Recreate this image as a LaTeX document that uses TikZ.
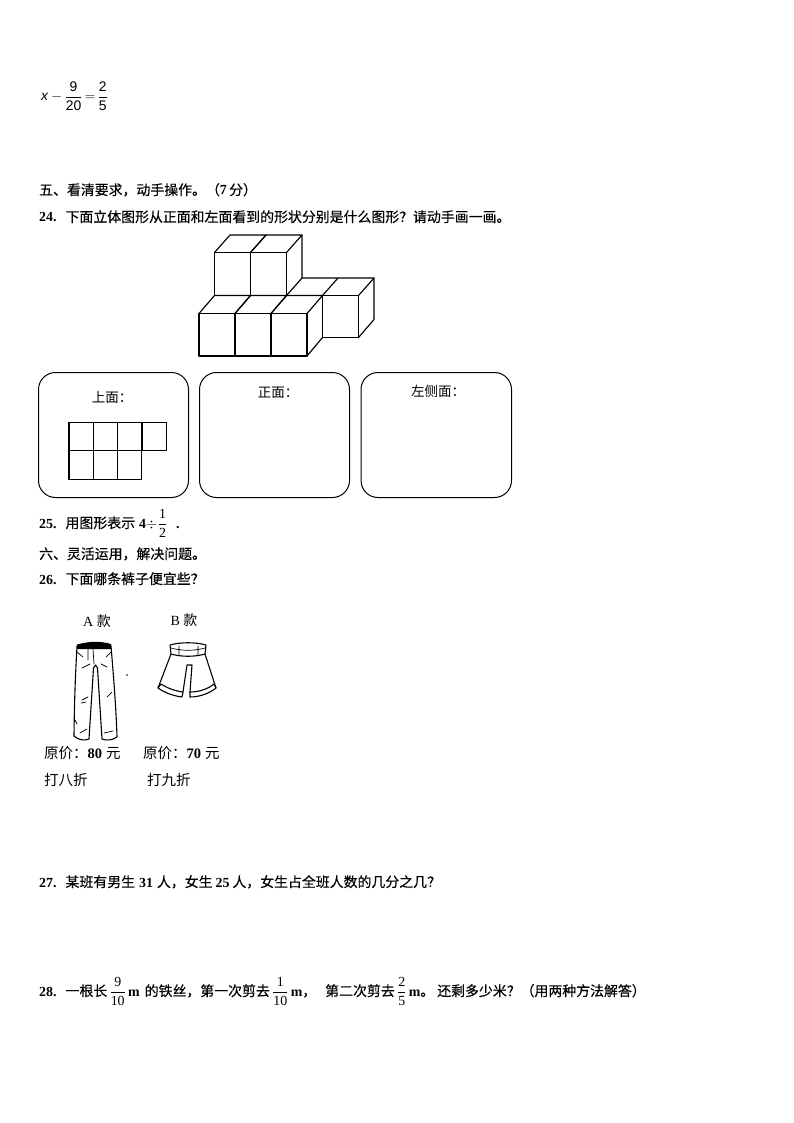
\documentclass[tikz,border=0pt]{standalone}
\usepackage{fix-cm}
\usepackage{amsmath}
\usepackage{fontspec}
\setmainfont{Liberation Serif}
\newfontfamily\cjk[FakeBold=0.3]{Noto Sans CJK SC}
\newfontfamily\cjklight{Noto Sans CJK SC}
\newfontfamily\eqfont{Liberation Sans}
\newcommand{\zh}[1]{{\cjk #1}}
\newcommand{\zl}[1]{{\cjklight #1}}
\newcommand{\wcomma}{\char"FF0C\relax}
\newcommand{\wcolon}{\char"FF1A\relax}
\newcommand{\wquery}{\char"FF1F\relax}
\newcommand{\wopen}{\char"FF08\relax}
\newcommand{\wclose}{\char"FF09\relax}
\newcommand{\frc}[2]{\ensuremath{\dfrac{\text{#1}}{\text{#2}}}}
\newcommand{\efrc}[2]{\ensuremath{\dfrac{\text{\eqfont #1}}{\text{\eqfont #2}}}}
\usetikzlibrary{positioning}
\tikzset{
  textline/.style={anchor=base west,inner sep=0pt,font=\fontsize{13.9}{16}\selectfont},
  pricetext/.style={anchor=base west,inner sep=0pt,font=\fontsize{14.5}{16}\selectfont},
  boxlabel/.style={inner sep=0pt,font=\fontsize{13.5}{14}\selectfont},
  viewbox/.style={draw,line width=1pt,rounded corners=17pt},
  cubeline/.style={draw,line width=1.15pt,line join=round},
  sketch/.style={draw,line width=1.1pt,line join=round,line cap=round},
  wrinkle/.style={draw,line width=0.7pt,line cap=round}
}
\begin{document}
\begin{tikzpicture}[x=1pt,y=-1pt]
  \useasboundingbox[fill=white] (0,0) rectangle (794,1123);
  \node[textline] (eqn) at (41,101) {\text{\eqfont\itshape x}\hspace{1pt}$\,{-}\,\efrc{9}{20}\,{=}\,\efrc{2}{5}$};
  \node[textline] (partfive) at (39,195) {\zh{五、看清要求\wcomma 动手操作。\wopen}\textbf{7}\,\zh{分\wclose}};
  \node[textline] (qfour) at (39,222) {\textbf{24.}\hspace{9pt}\zh{下面立体图形从正面和左面看到的形状分别是什么图形\wquery 请动手画一画。}};
  % upper cubes
  \foreach \x in {214.5,250.5} {
    \draw[cubeline] (\x,252.5) rectangle +(36,43);
    \draw[cubeline] (\x,252.5) -- +(15.5,-17.5) -- +(51.5,-17.5) -- +(36,0);
  }
  \draw[cubeline] (286.5,295.5) -- (302,278) -- (302,235);
  % right cube
  \draw[cubeline] (322.5,295.5) rectangle (358.5,337.5);
  \draw[cubeline] (302,278) -- (374,278) -- (374,319.5) -- (358.5,337.5);
  \draw[cubeline] (358.5,295.5) -- (374,278);
  \draw[cubeline] (322.5,295.5) -- (338,278);
  \draw[cubeline] (286.5,295.5) -- (322.5,295.5);
  % lower cubes
  \foreach \x in {199,235,271} {
    \draw[cubeline] (\x,313.5) rectangle +(36,42.5);
    \draw[cubeline] (\x,313.5) -- +(15.5,-18) -- +(51.5,-18) -- +(36,0);
  }
  \draw[cubeline] (307,356) -- (322.5,337.5);
  % view boxes
  \draw[viewbox] (38.5,372.5) rectangle (188.5,497.5);
  \draw[viewbox] (199.5,372.5) rectangle (349.5,497.5);
  \draw[viewbox] (361,372.5) rectangle (511.5,497.5);
  \node[boxlabel] (lbltop) at (112,397) {\zl{上面\wcolon}};
  \node[boxlabel] (lblfront) at (278,393) {\zl{正面\wcolon}};
  \node[boxlabel] (lblleft) at (438,391) {\zl{左侧面\wcolon}};
  \foreach \x in {69,93.3,117.6,142}
    \draw[line width=1.1pt] (\x,422.5) rectangle +(24.3,28.3);
  \foreach \x in {69,93.3,117.6}
    \draw[line width=1.1pt] (\x,450.8) rectangle +(24.3,28.5);
  \node[textline] (qfive) at (39,528) {\textbf{25.}\hspace{9pt}\zh{用图形表示}\hspace{4pt}\textbf{4}$\div$\hspace{1pt}\frc{1}{2}\hspace{9pt}\textbf{.}};
  \node[textline] (partsix) at (39,559) {\zh{六、灵活运用\wcomma 解决问题。}};
  \node[textline] (qsix) at (39,584) {\textbf{26.}\hspace{9pt}\zh{下面哪条裤子便宜些\wquery}};
  \node[boxlabel,font=\fontsize{14}{16}\selectfont] (lbla) at (97,621) {A \zl{款}};
  \node[boxlabel,font=\fontsize{14}{16}\selectfont] (lblb) at (184,620) {B \zl{款}};
  % trousers
  \fill[black] (77,644.5) .. controls (90,641) and (100,641) .. (111,644) -- (111,649) -- (77,649) -- cycle;
  \draw[sketch] (77,646) .. controls (76,665) and (74.5,690) .. (74,736) .. controls (78,740) and (85,741) .. (89,739)
    -- (93.5,668) -- (95.5,665) -- (97.5,668) -- (102,739) .. controls (107,741) and (113,740) .. (117,737)
    .. controls (116,705) and (113,670) .. (111,646);
  \draw[wrinkle] (77,652) -- (83,657) (111,652) -- (106,657) (88,649) -- (88,660) (93,649) -- (94,664)
    (82,668) -- (90,664) (101,664) -- (107,667) (82,700) -- (88,697) (81,703) -- (86,702) (107,697) -- (112,692)
    (80,733) -- (87,729) (104,733) -- (113,731) (75,720) -- (77,724);
  \fill (127,675) circle[radius=0.9];
  % shorts
  \draw[sketch] (170,645) .. controls (180,642) and (196,642) .. (206,645) (170,645) -- (171,654)
    .. controls (181,657) and (195,657) .. (205,654) -- (206,645);
  \draw[wrinkle] (171,648) .. controls (181,651) and (195,651) .. (205,648) (179,646) -- (179,655) (198,646) -- (198,655);
  \draw[sketch] (171,654) -- (158,688) .. controls (165,693) and (174,696) .. (182,697) -- (183,692) -- (187,665) -- (192,665) -- (190,692) -- (190,697)
    .. controls (200,697) and (210,693) .. (216,688) -- (205,654);
  \draw[sketch] (158,688) -- (161,684) .. controls (167,688) and (175,691) .. (183,692) (190,692) .. controls (199,692) and (208,689) .. (214,684) -- (216,688);
  \node[pricetext] (pricea) at (44,758) {\zl{原价\wcolon}\textbf{80}\hspace{4pt}\zl{元}};
  \node[pricetext] (priceb) at (143,758) {\zl{原价\wcolon}\textbf{70}\hspace{4pt}\zl{元}};
  \node[pricetext] (saleA) at (44,785) {\zl{打八折}};
  \node[pricetext] (saleB) at (147,785) {\zl{打九折}};
  \node[textline] (qseven) at (39,887) {\textbf{27.}\hspace{9pt}\zh{某班有男生}\hspace{4pt}\textbf{31}\hspace{4pt}\zh{人\wcomma 女生}\hspace{3pt}\textbf{25}\hspace{3pt}\zh{人\wcomma 女生占全班人数的几分之几\wquery}};
  \node[textline] (qeight) at (39,996) {\textbf{28.}\hspace{9pt}\zh{一根长}\,\frc{9}{10}\,\textbf{m}\hspace{5pt}\zh{的铁丝\wcomma 第一次剪去}\,\frc{1}{10}\,\textbf{m}\zh{\wcomma}\hspace{9pt}\zh{第二次剪去}\,\frc{2}{5}\,\textbf{m}\zh{。}\hspace{3pt}\zh{还剩多少米\wquery\wopen 用两种方法解答\wclose}};
\end{tikzpicture}
\end{document}
